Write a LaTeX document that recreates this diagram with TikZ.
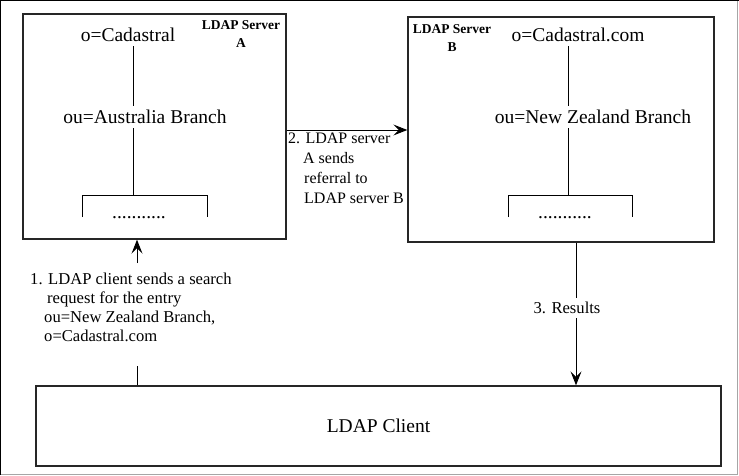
\documentclass[tikz,border=0pt]{standalone}
\usepackage{fontspec}
\setmainfont{Liberation Serif}
\usetikzlibrary{arrows.meta}

\begin{document}
\begin{tikzpicture}[x=1pt,y=-1pt,
  box/.style={draw=black!85, line width=1.4pt, inner sep=0pt},
  treetext/.style={font=\fontsize{19.5}{22}\selectfont, inner sep=0pt, outer sep=4.5pt},
  srvname/.style={font=\fontsize{13.5}{18}\selectfont\bfseries, align=center, inner sep=0pt},
  steptext/.style={font=\fontsize{16.6}{19}\selectfont, align=left, inner sep=0pt},
  link/.style={line width=0.9pt},
  arr/.style={link, -{Stealth[length=14pt,width=11pt,inset=5.5pt]}}]

  \useasboundingbox (0,0) rectangle (739,476);

  % window frame
  \draw[black, line width=1.2pt] (0.8,475) -- (0.8,0.8) -- (739,0.8);
  \draw[black!35, line width=1.2pt] (737.6,1) -- (737.6,474.6) -- (1,474.6);

  % server A
  \node[box, minimum width=263pt, minimum height=225pt] (srvA) at (154.5,126.5) {};
  \node[srvname] (nameA) at (241,34) {LDAP Server\\A};
  \node[treetext] (oA) at (128,35) {o=Cadastral};
  \node[treetext] (ouA) at (145,117) {ou=Australia Branch};
  \coordinate (trunkA) at (133,0);
  \coordinate (forkA) at (133,195);
  \draw[link] (oA.south -| trunkA) -- (ouA.north -| trunkA);
  \draw[link] (ouA.south -| trunkA) -- (forkA);
  \draw[link] (82,217) -- (82,195) -- (207,195) -- (207,217);
  \node[treetext, anchor=base] (dotsA) at (139,218) {...........};

  % server B
  \node[box, minimum width=306pt, minimum height=225pt] (srvB) at (561,129.5) {};
  \node[srvname] (nameB) at (452,38.5) {LDAP Server\\B};
  \node[treetext] (oB) at (578,35) {o=Cadastral.com};
  \node[treetext] (ouB) at (593,117) {ou=New Zealand Branch};
  \coordinate (trunkB) at (568,0);
  \coordinate (forkB) at (568,195);
  \draw[link] (oB.south -| trunkB) -- (ouB.north -| trunkB);
  \draw[link] (ouB.south -| trunkB) -- (forkB);
  \draw[link] (508,217) -- (508,195) -- (632,195) -- (632,217);
  \node[treetext, anchor=base] (dotsB) at (565,218) {...........};

  % client
  \node[box, minimum width=685pt, minimum height=80pt,
        font=\fontsize{19.5}{22}\selectfont] (client) at (378.5,426) {LDAP Client};

  % step 1: search request
  \coordinate (reqX) at (137,0);
  \coordinate (reqLo) at (137,366);
  \coordinate (reqHi) at (137,263);
  \draw[link] (client.north -| reqX) -- (reqLo);
  \draw[arr] (reqHi) -- (srvA.south -| reqX);
  \node[steptext, anchor=north west] (step1) at (30,273)
    {1. LDAP client sends a search\\
     \hspace*{17pt}request for the entry\\
     \hspace*{14pt}ou=New Zealand Branch,\\
     \hspace*{14pt}o=Cadastral.com};

  % step 2: referral
  \coordinate (refY) at (0,130);
  \draw[arr] (srvA.east |- refY) -- (srvB.west |- refY);
  \node[steptext, font=\fontsize{16}{20}\selectfont, anchor=north west] (step2) at (288,133)
    {2. LDAP server\\
     \hspace*{15pt}A sends\\
     \hspace*{16pt}referral to\\
     \hspace*{16pt}LDAP server B};

  % step 3: results
  \coordinate (resX) at (576,0);
  \draw[arr] (srvB.south -| resX) -- (client.north -| resX);
  \node[steptext, fill=white, inner xsep=1pt, inner ysep=4pt] (step3) at (567,308) {3. Results};
\end{tikzpicture}
\end{document}
